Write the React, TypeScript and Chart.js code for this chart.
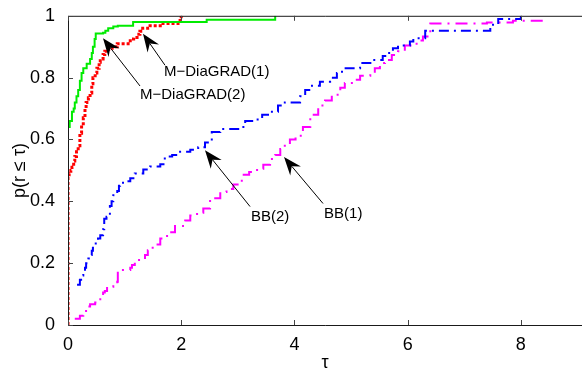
import React, { useEffect, useRef } from "react";
import { Chart, registerables } from "chart.js";

Chart.register(...registerables);

// M-DiaGRAD(2) (green)
const greenT = [0, 0, 0.03, 0.07, 0.1, 0.12, 0.15, 0.18, 0.21, 0.24, 0.27, 0.33, 0.39, 0.42, 0.44, 0.47, 0.49, 0.62, 0.66, 0.71, 0.8, 0.88, 1.15, 2.45, 3.66];
const greenP = [0, 0.64, 0.66, 0.69, 0.70, 0.72, 0.74, 0.76, 0.79, 0.815, 0.83, 0.845, 0.86, 0.88, 0.90, 0.925, 0.943, 0.945, 0.952, 0.96, 0.965, 0.968, 0.98, 0.987, 1.0];

// M-DiaGRAD(1) (red)
const redT = [0, 0, 0.02, 0.05, 0.07, 0.1, 0.12, 0.15, 0.18, 0.21, 0.24, 0.27, 0.3, 0.32, 0.36, 0.39, 0.42, 0.44, 0.48, 0.51, 0.55, 0.57, 0.62, 0.65, 0.72, 0.78, 0.87, 1.1, 1.16, 1.22, 1.27, 1.32, 1.45, 1.63, 1.98, 2.0];
const redP = [0, 0.48, 0.49, 0.50, 0.51, 0.53, 0.545, 0.56, 0.58, 0.62, 0.645, 0.67, 0.70, 0.72, 0.735, 0.75, 0.78, 0.80, 0.815, 0.83, 0.85, 0.86, 0.875, 0.885, 0.895, 0.90, 0.91, 0.925, 0.93, 0.94, 0.95, 0.96, 0.968, 0.975, 0.99, 1.0];

// BB(2) (blue)
const blueT = [0.16, 0.21, 0.25, 0.27, 0.3, 0.32, 0.36, 0.39, 0.42, 0.44, 0.49, 0.53, 0.57, 0.62, 0.64, 0.68, 0.71, 0.74, 0.77, 0.8, 0.84, 0.87, 0.9, 0.92, 1.0, 1.1, 1.18, 1.33, 1.45, 1.63, 1.71, 1.84, 1.98, 2.16, 2.3, 2.42, 2.54, 2.69, 3.04, 3.13, 3.3, 3.43, 3.57, 3.71, 3.83, 4.1, 4.19, 4.31, 4.45, 4.63, 4.75, 4.84, 5.16, 5.37, 5.56, 5.64, 5.74, 5.83, 6.04, 6.1, 6.31, 7.46, 7.6, 8.0];
const blueP = [0.13, 0.146, 0.16, 0.17, 0.185, 0.20, 0.215, 0.226, 0.24, 0.25, 0.27, 0.28, 0.29, 0.31, 0.344, 0.35, 0.36, 0.385, 0.40, 0.42, 0.425, 0.433, 0.45, 0.46, 0.465, 0.475, 0.49, 0.503, 0.513, 0.52, 0.545, 0.55, 0.56, 0.567, 0.575, 0.59, 0.624, 0.634, 0.64, 0.66, 0.665, 0.68, 0.69, 0.71, 0.72, 0.74, 0.76, 0.774, 0.787, 0.80, 0.815, 0.83, 0.847, 0.857, 0.87, 0.88, 0.895, 0.904, 0.917, 0.927, 0.952, 0.971, 0.99, 1.0];

// BB(1) (magenta)
const magentaT = [0.12, 0.21, 0.27, 0.34, 0.39, 0.48, 0.51, 0.57, 0.62, 0.65, 0.69, 0.8, 0.87, 0.88, 1.1, 1.13, 1.18, 1.36, 1.41, 1.45, 1.54, 1.63, 1.75, 1.89, 2.07, 2.16, 2.28, 2.39, 2.51, 2.69, 2.8, 2.92, 3.07, 3.2, 3.34, 3.45, 3.57, 3.66, 3.75, 3.83, 3.92, 4.02, 4.15, 4.28, 4.42, 4.54, 4.66, 4.81, 4.89, 5.07, 5.16, 5.34, 5.42, 5.51, 5.6, 5.72, 5.83, 5.95, 6.08, 6.18, 6.27, 6.4, 7.4, 7.86, 8.39];
const magentaP = [0.02, 0.03, 0.045, 0.06, 0.067, 0.073, 0.083, 0.096, 0.105, 0.11, 0.124, 0.13, 0.14, 0.178, 0.185, 0.194, 0.21, 0.226, 0.242, 0.25, 0.26, 0.28, 0.30, 0.32, 0.338, 0.354, 0.363, 0.377, 0.41, 0.43, 0.44, 0.454, 0.486, 0.495, 0.505, 0.518, 0.537, 0.55, 0.569, 0.585, 0.60, 0.612, 0.64, 0.68, 0.71, 0.726, 0.745, 0.767, 0.783, 0.793, 0.806, 0.815, 0.83, 0.847, 0.857, 0.873, 0.885, 0.904, 0.91, 0.92, 0.933, 0.975, 0.978, 0.984, 1.0];

const xTicks = [0, 2, 4, 6, 8];
const yTicks = [0, 0.2, 0.4, 0.6, 0.8, 1];

// annotations: label, arrow tip (t,p), arrow tail (t,p), text anchor (t,p)
const annLabels = ["M\u2212DiaGRAD(1)", "M\u2212DiaGRAD(2)", "BB(2)", "BB(1)"];
const annTip = [[1.325, 0.942], [0.618, 0.927], [2.42, 0.565], [3.816, 0.543]];
const annTail = [[1.714, 0.840], [1.272, 0.773], [3.216, 0.383], [4.505, 0.393]];
const annText = [[1.696, 0.818], [1.272, 0.744], [3.233, 0.351], [4.523, 0.361]];

const FONT = "'Liberation Sans', Arial, Helvetica, sans-serif";

function pts(t: number[], p: number[]) {
  const n = Math.min(t.length, p.length);
  const out: { x: number; y: number }[] = [];
  for (let i = 0; i < n; i++) out.push({ x: t[i], y: p[i] });
  return out;
}

const framePlugin = {
  id: "frame",
  afterDatasetsDraw(chart: any) {
    const { ctx, chartArea: a, scales } = chart;
    const xs = scales.x;
    const ys = scales.y;
    ctx.save();
    ctx.strokeStyle = "#1a1a1a";
    ctx.lineWidth = 1;
    ctx.beginPath();
    ctx.moveTo(a.left + 0.5, a.top + 0.5);
    ctx.lineTo(a.left + 0.5, a.bottom + 0.5);
    ctx.lineTo(a.right, a.bottom + 0.5);
    ctx.moveTo(a.left + 0.5, a.top + 0.5);
    ctx.lineTo(a.right, a.top + 0.5);
    ctx.stroke();
    ctx.strokeStyle = "#444";
    ctx.beginPath();
    for (const v of xTicks) {
      const px = Math.round(xs.getPixelForValue(v)) + 0.5;
      ctx.moveTo(px, a.bottom);
      ctx.lineTo(px, a.bottom - 5);
      ctx.moveTo(px, a.top);
      ctx.lineTo(px, a.top + 5);
    }
    for (const v of yTicks) {
      const py = Math.round(ys.getPixelForValue(v)) + 0.5;
      ctx.moveTo(a.left, py);
      ctx.lineTo(a.left + 5, py);
    }
    ctx.stroke();

    // annotations
    ctx.strokeStyle = "#000";
    ctx.fillStyle = "#000";
    ctx.lineWidth = 1;
    for (let i = 0; i < annLabels.length; i++) {
      const tx = xs.getPixelForValue(annTip[i][0]);
      const ty = ys.getPixelForValue(annTip[i][1]);
      const sx = xs.getPixelForValue(annTail[i][0]);
      const sy = ys.getPixelForValue(annTail[i][1]);
      const ang = Math.atan2(ty - sy, tx - sx);
      const L = 18;
      const W = 7;
      const N = 12;
      const cos = Math.cos(ang), sin = Math.sin(ang);
      const bx = tx - L * cos, by = ty - L * sin;
      const nx = tx - N * cos, ny = ty - N * sin;
      ctx.beginPath();
      ctx.moveTo(sx, sy);
      ctx.lineTo(nx, ny);
      ctx.stroke();
      ctx.beginPath();
      ctx.moveTo(tx, ty);
      ctx.lineTo(bx - W * sin, by + W * cos);
      ctx.lineTo(nx, ny);
      ctx.lineTo(bx + W * sin, by - W * cos);
      ctx.closePath();
      ctx.fill();
      ctx.font = `15px ${FONT}`;
      ctx.textAlign = "left";
      ctx.textBaseline = "middle";
      ctx.fillText(annLabels[i], xs.getPixelForValue(annText[i][0]), ys.getPixelForValue(annText[i][1]));
    }
    ctx.restore();
  },
};

export default function App() {
  const ref = useRef<HTMLCanvasElement>(null);
  useEffect(() => {
    const canvas = ref.current;
    if (!canvas) return;
    const chart = new Chart(canvas, {
      type: "line",
      data: {
        datasets: [
          {
            label: "M-DiaGRAD(2)",
            data: pts(greenT, greenP),
            borderColor: "rgb(0,235,0)",
            borderWidth: 2,
            pointRadius: 0,
            stepped: true,
            fill: false,
          },
          {
            label: "M-DiaGRAD(1)",
            data: pts(redT, redP),
            borderColor: "rgb(255,0,0)",
            borderWidth: 3,
            borderDash: [3, 2],
            pointRadius: 0,
            stepped: true,
            fill: false,
          },
          {
            label: "BB(2)",
            data: pts(blueT, blueP),
            borderColor: "rgb(0,0,255)",
            borderWidth: 2,
            borderDash: [10, 5, 2, 5],
            pointRadius: 0,
            stepped: true,
            fill: false,
          },
          {
            label: "BB(1)",
            data: pts(magentaT, magentaP),
            borderColor: "rgb(255,0,255)",
            borderWidth: 2,
            borderDash: [12, 6, 2, 6],
            pointRadius: 0,
            stepped: true,
            fill: false,
          },
        ],
      },
      options: {
        animation: false,
        responsive: false,
        layout: { padding: { top: 12, right: 0, left: 0, bottom: 0 } },
        plugins: { legend: { display: false }, tooltip: { enabled: false } },
        scales: {
          x: {
            type: "linear",
            min: 0,
            max: 9.08,
            grid: { display: false },
            border: { display: false },
            ticks: {
              stepSize: 2,
              includeBounds: false,
              maxRotation: 0,
              padding: 1,
              color: "#000",
              font: { family: FONT, size: 18 },
            },
            title: {
              display: true,
              text: "τ",
              color: "#000",
              font: { family: FONT, size: 18, lineHeight: 1 },
              padding: { top: 0, bottom: 2 },
            },
            afterFit: (s: any) => {
              s.height = 49;
            },
          },
          y: {
            type: "linear",
            min: 0,
            max: 1,
            grid: { display: false },
            border: { display: false },
            ticks: {
              stepSize: 0.2,
              padding: 5,
              color: "#000",
              font: { family: FONT, size: 18 },
              callback: (v: any) => String(Number(Number(v).toFixed(1))),
            },
            title: {
              display: true,
              text: "p(r ≤ τ)",
              color: "#000",
              font: { family: FONT, size: 18 },
              padding: { top: 9, bottom: 0 },
            },
            afterFit: (s: any) => {
              s.width = 68;
            },
          },
        },
      },
      plugins: [framePlugin],
    } as any);
    return () => chart.destroy();
  }, []);
  return (
    <div style={{ position: "fixed", left: 0, top: 0, width: 582, height: 374, background: "#fff" }}>
      <canvas ref={ref} width={582} height={374} style={{ display: "block" }} />
    </div>
  );
}
